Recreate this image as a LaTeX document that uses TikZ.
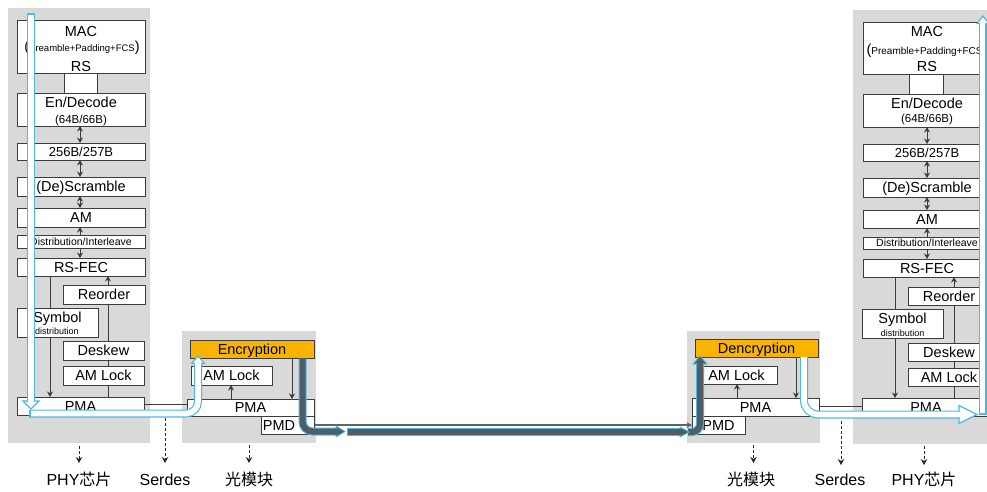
\documentclass[tikz,border=0pt]{standalone}
\usepackage{fontspec}
\setmainfont{Liberation Sans}
\newfontfamily\cjk{Noto Sans CJK SC}
\usetikzlibrary{arrows.meta}
\pgfdeclarelayer{bgl}\pgfdeclarelayer{lnl}\pgfdeclarelayer{fgl}
\pgfsetlayers{bgl,lnl,main,fgl}
\definecolor{bggray}{RGB}{217,217,217}
\definecolor{edge}{RGB}{60,60,60}
\definecolor{cyanc}{RGB}{76,186,224}
\definecolor{darkc}{RGB}{82,92,102}
\definecolor{orangec}{RGB}{250,180,0}
\begin{document}
\begin{tikzpicture}[x=1pt,y=-1pt,
 bgbox/.style={fill=bggray,draw=none,inner sep=0pt,outer sep=0pt},
 fa/.style={font=\fontsize{14.5}{16}\selectfont,text height=10.4pt,text depth=0pt},
 fb/.style={font=\fontsize{13}{15}\selectfont,text height=9.3pt,text depth=0pt},
 fc/.style={font=\fontsize{11.5}{13}\selectfont,text height=8.3pt,text depth=0pt},
 fd/.style={font=\fontsize{10.5}{12}\selectfont,text height=7.5pt,text depth=0pt},
 fe/.style={font=\fontsize{9}{10}\selectfont,text height=6.5pt,text depth=0pt},
 box/.style={draw=edge,fill=white,line width=0.9pt,inner sep=0pt,outer sep=0pt,fa},
 obox/.style={box,fill=orangec},
 txt/.style={inner sep=0pt,outer sep=0pt,fa},
 lab/.style={inner sep=0pt,anchor=base,font=\fontsize{16}{18}\selectfont},
 conn/.style={draw=edge,line width=0.9pt},
 arr/.style={conn,-{Stealth[length=5.5pt,width=6pt]}},
 dblarr/.style={conn,{Stealth[length=5.5pt,width=6pt]}-{Stealth[length=5.5pt,width=6pt]}},
 dasharr/.style={draw=black!85,line width=0.9pt,dash pattern=on 3pt off 2pt,-{Stealth[length=6pt,width=6.5pt]}},
 cyanband/.style={draw=cyanc,line width=1.2pt,double=white,double distance=5.6pt},
 cyanhead/.style={fill=white,draw=cyanc,line width=1.2pt},
 cyancap/.style={draw=cyanc,line width=1.2pt},
 darkband/.style={draw=cyanc,line width=1pt,double=darkc,double distance=6pt},
 darkhead/.style={fill=darkc,draw=cyanc,line width=0.8pt}
]
\useasboundingbox (0,0) rectangle (987,491);
\clip (0,0) rectangle (987,491);

% ---------- backgrounds ----------
\begin{pgfonlayer}{bgl}
\fill[white] (0,0) rectangle (987,491);
\node[bgbox,minimum width=142pt,minimum height=435pt] (colL) at (79,225.5) {};
\node[bgbox,minimum width=142pt,minimum height=434pt] (colR) at (924,227) {};
\node[bgbox,minimum width=134pt,minimum height=112pt] (modL) at (249,387) {};
\node[bgbox,minimum width=133pt,minimum height=112pt] (modR) at (753.5,387) {};
\end{pgfonlayer}

% ---------- left PHY column ----------
\node[box,minimum width=128pt,minimum height=53pt] (macL) at (81,46.5) {};
\node[txt] (macL1) at (81,31.5) {MAC};
\node[inner sep=0pt,anchor=base] (macL2) at (82,51.5) {{\fontsize{14.5}{16}\selectfont(}{\fontsize{9.5}{10}\selectfont Preamble+Padding+FCS}{\fontsize{14.5}{16}\selectfont)}};
\node[txt] (macL3) at (81,66) {RS};
\node[box,minimum width=33pt,minimum height=20pt] (lnkL) at (80.5,83) {};
\node[box,minimum width=128pt,minimum height=33pt] (encL) at (81,109.5) {};
\node[txt] (encL1) at (81,102) {En/Decode};
\node[txt,fc] (encL2) at (81,119) {(64B/66B)};
\node[box,fb,minimum width=128pt,minimum height=17pt] (b256L) at (81,151.5) {256B/257B};
\node[box,minimum width=128pt,minimum height=19pt] (scrL) at (81,186.5) {(De)Scramble};
\node[box,minimum width=128pt,minimum height=19pt] (amL) at (81,217.5) {AM};
\node[box,fd,minimum width=128pt,minimum height=13pt] (distL) at (81,241.5) {Distribution/Interleave};
\node[box,minimum width=128pt,minimum height=18pt] (fecL) at (81,267) {RS-FEC};
\node[box,minimum width=82pt,minimum height=19pt] (reoL) at (104,294.5) {Reorder};
\node[box,minimum width=81pt,minimum height=29pt] (symL) at (57.5,322.5) {};
\node[txt] (symL1) at (57.5,317) {Symbol};
\node[txt,fe] (symL2) at (57,331) {distribution};
\node[box,minimum width=81pt,minimum height=19pt] (deskL) at (103.5,350.5) {Deskew};
\node[box,minimum width=81pt,minimum height=19pt] (amlL) at (103.5,375.5) {AM Lock};
\node[box,minimum width=127pt,minimum height=18pt] (pmaL) at (80.5,406) {PMA};

% ---------- right PHY column ----------
\node[box,minimum width=128pt,minimum height=52pt] (macR) at (927,48) {};
\node[txt] (macR1) at (927,31.5) {MAC};
\node[inner sep=0pt,anchor=base] (macR2) at (927,54) {{\fontsize{14.5}{16}\selectfont(}{\fontsize{10}{11}\selectfont Preamble+Padding+FCS}{\fontsize{14.5}{16}\selectfont)}};
\node[txt] (macR3) at (927,66.5) {RS};
\node[box,minimum width=34pt,minimum height=20pt] (lnkR) at (926,84) {};
\node[box,minimum width=128pt,minimum height=33pt] (encR) at (927,110.5) {};
\node[txt] (encR1) at (927,103.5) {En/Decode};
\node[txt,fc] (encR2) at (927,118.5) {(64B/66B)};
\node[box,fb,minimum width=128pt,minimum height=17pt] (b256R) at (927,152.5) {256B/257B};
\node[box,minimum width=128pt,minimum height=19pt] (scrR) at (927,187.5) {(De)Scramble};
\node[box,minimum width=128pt,minimum height=18pt] (amR) at (927,219) {AM};
\node[box,fd,minimum width=128pt,minimum height=12pt] (distR) at (927,243) {Distribution/Interleave};
\node[box,minimum width=128pt,minimum height=18pt] (fecR) at (927,268) {RS-FEC};
\node[box,minimum width=82pt,minimum height=18pt] (reoR) at (949,296) {Reorder};
\node[box,minimum width=81pt,minimum height=29pt] (symR) at (902.5,323.5) {};
\node[txt] (symR1) at (902.5,318) {Symbol};
\node[txt,fe] (symR2) at (902.5,333) {distribution};
\node[box,minimum width=82pt,minimum height=18pt] (deskR) at (949,352) {Deskew};
\node[box,minimum width=82pt,minimum height=18pt] (amlR) at (949,377) {AM Lock};
\node[box,minimum width=128pt,minimum height=18pt] (pmaR) at (926,407) {PMA};

% ---------- optical modules ----------
\node[obox,minimum width=124pt,minimum height=18pt] (encr) at (252,349) {Encryption};
\node[box,minimum width=81pt,minimum height=19pt] (amlM) at (231.5,375.5) {AM Lock};
\node[box,minimum width=127pt,minimum height=17pt] (pmaM) at (250.5,407.5) {PMA};
\node[box,minimum width=53pt,minimum height=18pt] (pmdM) at (287.5,425) {};
\node[txt] (pmdMt) at (279,425) {PMD};

\node[obox,minimum width=123pt,minimum height=18pt] (decr) at (756.5,348) {Dencryption};
\node[box,minimum width=81pt,minimum height=18pt] (amlN) at (736.5,375) {AM Lock};
\node[box,minimum width=127pt,minimum height=18pt] (pmaN) at (755.5,407) {PMA};
\node[box,minimum width=53pt,minimum height=18pt] (pmdN) at (718.5,425) {PMD};

% ---------- thin connectors ----------
\coordinate (xe) at (80,0);
\coordinate (xf) at (927,0);
\coordinate (xa) at (50,0);
\coordinate (xb) at (108,0);
\coordinate (xc) at (895,0);
\coordinate (xd) at (954,0);
\coordinate (xg) at (231,0);
\coordinate (xh) at (292,0);
\coordinate (xi) at (737,0);
\coordinate (xj) at (796,0);
\coordinate (ys1) at (0,404);
\coordinate (ys2) at (0,406);
\begin{pgfonlayer}{lnl}
\draw[dblarr] (encL.south -| xe) -- (b256L.north -| xe);
\draw[dblarr] (b256L.south -| xe) -- (scrL.north -| xe);
\draw[dblarr] (scrL.south -| xe) -- (amL.north -| xe);
\draw[arr] (distL.north -| xe) -- (amL.south -| xe);
\draw[arr] (distL.south -| xe) -- (fecL.north -| xe);
\draw[arr] (fecL.south -| xa) -- (pmaL.north -| xa);
\draw[arr] (pmaL.north -| xb) -- (fecL.south -| xb);

\draw[dblarr] (encR.south -| xf) -- (b256R.north -| xf);
\draw[dblarr] (b256R.south -| xf) -- (scrR.north -| xf);
\draw[dblarr] (scrR.south -| xf) -- (amR.north -| xf);
\draw[arr] (distR.north -| xf) -- (amR.south -| xf);
\draw[arr] (distR.south -| xf) -- (fecR.north -| xf);
\draw[arr] (fecR.south -| xc) -- (pmaR.north -| xc);
\draw[arr] (pmaR.north -| xd) -- (fecR.south -| xd);

\draw[arr] (pmaM.north -| xg) -- (amlM.south -| xg);
\draw[arr] (encr.south -| xh) -- (pmaM.north -| xh);
\draw[arr] (pmaN.north -| xi) -- (amlN.south -| xi);
\draw[arr] (decr.south -| xj) -- (pmaN.north -| xj);

\draw[conn] (pmaL.east |- ys1) -- (pmaM.west |- ys1);
\draw[conn] (pmaN.east |- ys2) -- (pmaR.west |- ys2);
\draw[draw=edge!80,line width=1.2pt,-{Stealth[length=5.5pt,width=6pt]}] (pmdM.east) -- (pmdN.west);
\end{pgfonlayer}

% ---------- flow arrows ----------
\coordinate (ch1) at (30,413.5);
\coordinate (ch2) at (198,413.5);
\coordinate (ch3) at (198,363);
\coordinate (cv1) at (31,14);
\coordinate (cv2) at (31,402);
\coordinate (cr1) at (804,357);
\coordinate (cr2) at (804,414.5);
\coordinate (cr3) at (960,414.5);
\coordinate (cu1) at (982.5,414);
\coordinate (cu2) at (982.5,23);
\coordinate (dk1) at (302.5,358.5);
\coordinate (dk2) at (302.5,431.5);
\coordinate (dk3) at (337,431.5);
\coordinate (dm1) at (347,432);
\coordinate (dm2) at (681,432);
\coordinate (dn1) at (688,432);
\coordinate (dn2) at (700,432);
\coordinate (dn3) at (700,363);
\begin{pgfonlayer}{fgl}
% left cyan: PMA -> Encryption
\filldraw[cyanhead] (198,356) -- (191.5,363.5) -- (204.5,363.5) -- cycle;
\draw[cyanband,rounded corners=12pt] (ch1) -- (ch2) -- (ch3);
\draw[cyancap] (30,409.5) -- (30,417.5);
% left cyan: down through the PHY stack
\filldraw[cyanhead] (31,409) -- (23,401) -- (39,401) -- cycle;
\draw[cyanband] (cv1) -- (cv2);
\draw[cyancap] (27,14) -- (35,14);
% right cyan: Dencryption -> PHY
\filldraw[cyanhead] (977,414.5) -- (959,405.5) -- (959,423.5) -- cycle;
\draw[cyanband,rounded corners=14pt] (cr1) -- (cr2) -- (cr3);
% right cyan: up through the PHY stack
\filldraw[cyanhead] (983,16) -- (977,23.5) -- (989,23.5) -- cycle;
\draw[cyanband] (cu1) -- (cu2);
\draw[cyancap] (978.5,414) -- (986.5,414);
% dark: Encryption -> PMD -> fiber
\filldraw[darkhead] (345,431.5) -- (336,426) -- (336,437) -- cycle;
\draw[darkband,rounded corners=10pt] (dk1) -- (dk2) -- (dk3);
% dark: into Dencryption
\filldraw[darkhead] (700,356) -- (693,364) -- (707,364) -- cycle;
\draw[darkband,rounded corners=8pt] (dn1) -- (dn2) -- (dn3);
% dark: fiber band
\filldraw[darkhead] (689,432) -- (680,427) -- (680,437) -- cycle;
\draw[darkband] (dm1) -- (dm2);
\draw[cyanc,line width=1pt] (347,428) -- (347,436);
\end{pgfonlayer}

% ---------- labels ----------
\node[lab] (phyL) at (79,485) {PHY{\cjk 芯片}};
\node[lab] (sdL) at (165,485) {Serdes};
\node[lab] (omL) at (249,485) {{\cjk 光模块}};
\node[lab] (omR) at (751,485) {{\cjk 光模块}};
\node[lab] (sdR) at (840,485) {Serdes};
\node[lab] (phyR) at (924,485) {PHY{\cjk 芯片}};

\coordinate (d1b) at (79,463);
\coordinate (d2a) at (165,418);
\coordinate (d2b) at (165,463);
\coordinate (d3b) at (249,463);
\coordinate (d4b) at (753.5,463);
\coordinate (d5a) at (841,421);
\coordinate (d5b) at (841,465);
\coordinate (d6b) at (924,465);
\draw[dasharr,shorten <=3pt] (colL.south) -- (d1b);
\draw[dasharr] (d2a) -- (d2b);
\draw[dasharr,shorten <=2pt] (modL.south) -- (d3b);
\draw[dasharr,shorten <=2pt] (modR.south) -- (d4b);
\draw[dasharr] (d5a) -- (d5b);
\draw[dasharr,shorten <=2pt] (colR.south) -- (d6b);
\end{tikzpicture}
\end{document}
